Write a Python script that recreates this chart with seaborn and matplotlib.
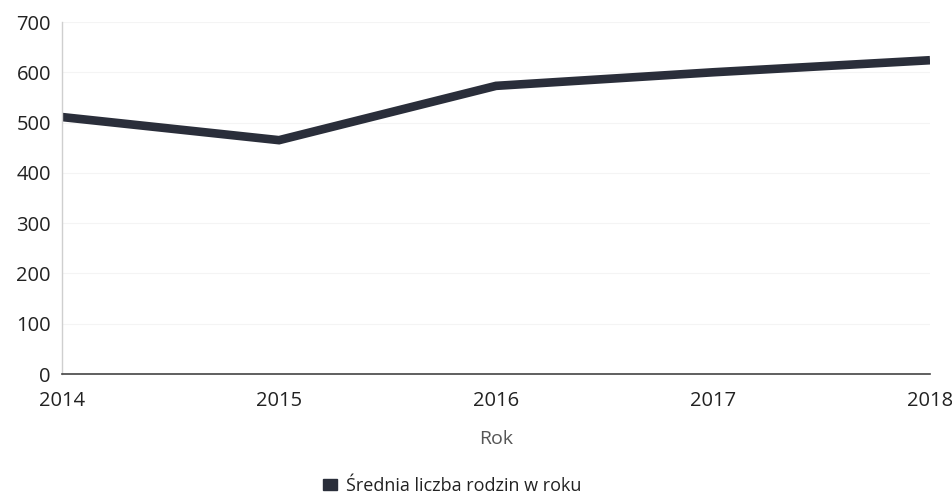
import matplotlib
matplotlib.use("Agg")
import matplotlib.pyplot as plt
from matplotlib.patches import Patch
import seaborn as sns
import pandas as pd

years = [2014, 2015, 2016, 2017, 2018]
families = [511, 465, 573, 600, 624]
y_ticks = [0, 100, 200, 300, 400, 500, 600, 700]
series_label = "Średnia liczba rodzin w roku"

sns.set_theme(style="white")
plt.rcParams["font.family"] = ["Open Sans", "DejaVu Sans"]

df = pd.DataFrame({"Rok": years, "Wartość": families})

fig = plt.figure(figsize=(9.53, 4.99), dpi=100)
ax = fig.add_axes([62 / 953, 1 - 374 / 499, (930 - 62) / 953, (374 - 22) / 499])

line_color = "#2a2e3a"
sns.lineplot(data=df, x="Rok", y="Wartość", ax=ax, color=line_color,
             linewidth=6.2, solid_joinstyle="miter", solid_capstyle="butt")

ax.set_xlim(years[0], years[-1])
ax.set_ylim(0, 700)
ax.set_xticks(years)
ax.set_xticklabels([str(y) for y in years])
ax.set_yticks(y_ticks)
ax.tick_params(axis="both", length=0, labelsize=14.5, colors="#222222")
ax.tick_params(axis="y", pad=8)
ax.tick_params(axis="x", pad=12)
ax.grid(axis="y", color="#f4f4f4", linewidth=0.8)

for side in ["top", "right"]:
    ax.spines[side].set_visible(False)
ax.spines["left"].set_color("#cfcfcf")
ax.spines["left"].set_linewidth(1.0)
ax.spines["bottom"].set_color("#444444")
ax.spines["bottom"].set_linewidth(1.2)

ax.set_ylabel("")
ax.set_xlabel("Rok", fontsize=14, color="#555555", labelpad=14)

handle = Patch(facecolor=line_color, edgecolor=line_color)
fig.legend(handles=[handle], labels=[series_label], loc="center",
           bbox_to_anchor=(452 / 953, 1 - 486 / 499), frameon=False,
           fontsize=13, handlelength=0.8, handleheight=0.6, handletextpad=0.5,
           labelcolor="#222222")

fig.savefig("out.png", dpi=100)
